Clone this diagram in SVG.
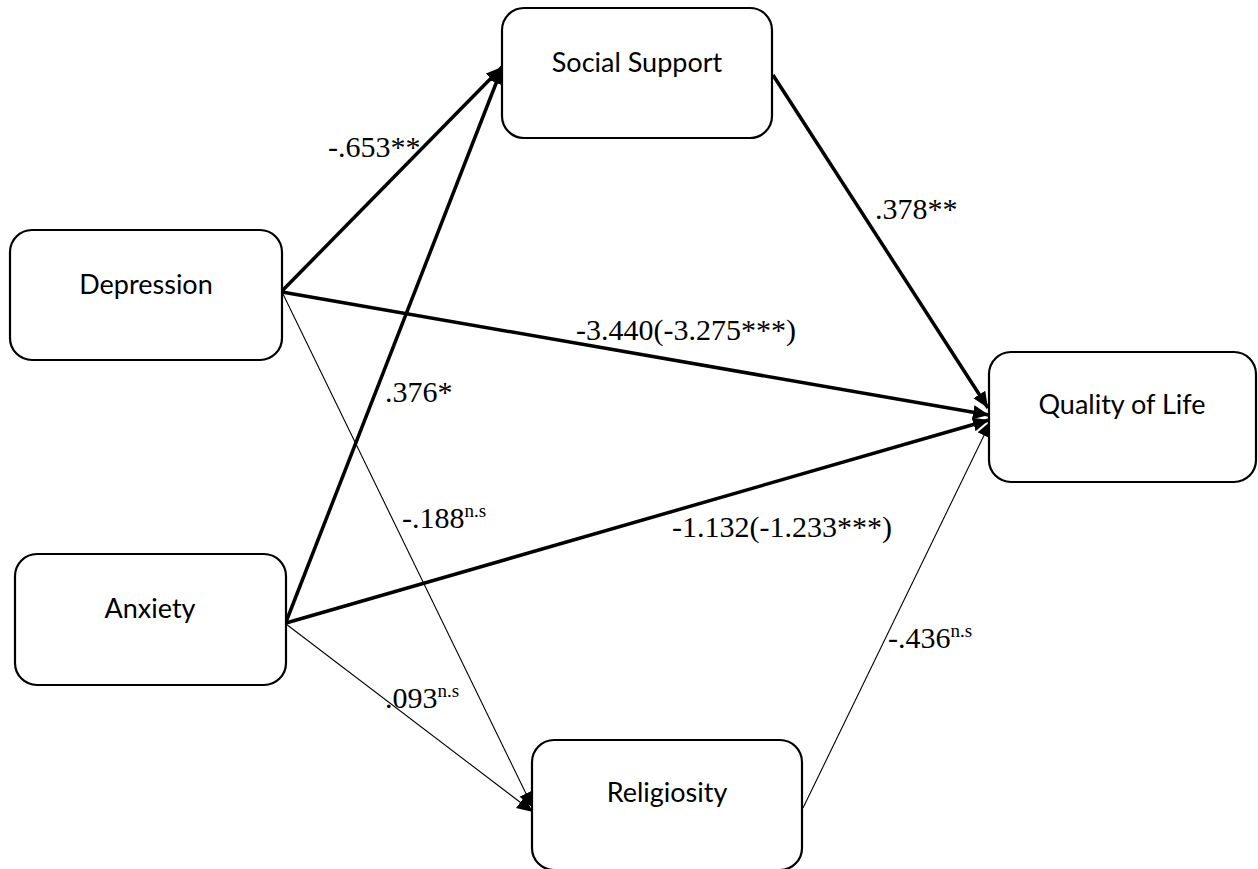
<svg xmlns="http://www.w3.org/2000/svg" width="1258" height="869" viewBox="0 0 1258 869">
<style>
.box{fill:#fff;stroke:#000;stroke-width:2.2}
.nl{font-family:Lato,"Open Sans",sans-serif;font-size:27px;fill:#000;text-anchor:middle}
.el{font-family:"Liberation Serif","Times New Roman",serif;font-size:30px;fill:#000}
.sup{font-size:19px}
.thick{stroke:#000;stroke-width:3.5;fill:none;marker-end:url(#ah)}
.thin{stroke:#000;stroke-width:1.1;fill:none;marker-end:url(#ah)}
</style>
<defs>
<marker id="ah" markerUnits="userSpaceOnUse" markerWidth="17" markerHeight="15" refX="16" refY="7" orient="auto" viewBox="0 0 17 14">
<path d="M0,0 L16,7 L0,14 z" fill="#000"/>
</marker>
</defs>
<rect width="1258" height="869" fill="#fff"/>
<g id="connectors">
<line class="thick" x1="282" y1="291" x2="502" y2="67"/>
<line class="thick" x1="286" y1="622" x2="502" y2="68"/>
<line class="thick" x1="282" y1="292" x2="989" y2="415"/>
<line class="thick" x1="286" y1="623" x2="989" y2="420"/>
<line class="thick" x1="773" y1="75" x2="988" y2="408"/>
<line class="thin" x1="282" y1="292" x2="533" y2="808"/>
<line class="thin" x1="286" y1="624" x2="533" y2="812"/>
<line class="thin" x1="803" y1="808" x2="991" y2="421"/>
</g>
<g id="node-social-support">
<rect class="box" x="502" y="8" width="270" height="130" rx="22"/>
<text class="nl" x="637" y="72">Social Support</text>
</g>
<g id="node-depression">
<rect class="box" x="10" y="230" width="272" height="130" rx="22"/>
<text class="nl" x="146" y="294">Depression</text>
</g>
<g id="node-anxiety">
<rect class="box" x="15" y="554" width="271" height="131" rx="22"/>
<text class="nl" x="150" y="618">Anxiety</text>
</g>
<g id="node-quality-of-life">
<rect class="box" x="989" y="352" width="267" height="130" rx="22"/>
<text class="nl" x="1122" y="414">Quality of Life</text>
</g>
<g id="node-religiosity">
<rect class="box" x="532" y="740" width="270" height="130" rx="22"/>
<text class="nl" x="667" y="802">Religiosity</text>
</g>
<g id="labels">
<text class="el" x="328" y="157">-.653**</text>
<text class="el" x="875" y="219">.378**</text>
<text class="el" x="576" y="340">-3.440(-3.275***)</text>
<text class="el" x="385" y="402">.376*</text>
<text class="el" x="402" y="528">-.188<tspan class="sup" dy="-11">n.s</tspan></text>
<text class="el" x="672" y="537">-1.132(-1.233***)</text>
<text class="el" x="888" y="648">-.436<tspan class="sup" dy="-11">n.s</tspan></text>
<text class="el" x="385" y="708">.093<tspan class="sup" dy="-11">n.s</tspan></text>
</g>
</svg>
